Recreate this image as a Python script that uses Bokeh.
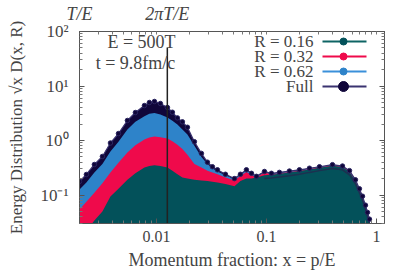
import math
from bokeh.plotting import figure
from bokeh.models import LogAxis, FixedTicker, Label
from bokeh.embed import file_html
from bokeh.resources import INLINE

# ---- data ----
T_OVER_E = 1.0 / 500.0
x = [0.0020, 0.00231, 0.00273, 0.00323, 0.00382, 0.00452, 0.00545, 0.00644,
     0.00778, 0.00863, 0.0096, 0.01087, 0.01259, 0.01397, 0.01552, 0.01723,
     0.01914, 0.02215, 0.02565, 0.02909, 0.03228, 0.03587, 0.04238, 0.05117,
     0.05803, 0.06577, 0.0731, 0.0811, 0.09594, 0.1110, 0.1312, 0.1618,
     0.1995, 0.2460, 0.3034, 0.3981, 0.4909, 0.5686, 0.6442, 0.7000,
     0.7464, 0.7943, 0.8283, 0.8637]
full = [0.177, 0.238, 0.363, 0.51, 0.9, 1.34, 2.33, 3.26,
        4.38, 4.98, 5.2, 4.77, 4.03, 3.3, 2.6, 2.2,
        1.75, 0.95, 0.58, 0.40, 0.33, 0.29, 0.24, 0.20,
        0.24, 0.29, 0.25, 0.22, 0.27, 0.25, 0.26, 0.275,
        0.29, 0.31, 0.33, 0.36, 0.34, 0.28, 0.19, 0.13,
        0.095, 0.065, 0.048, 0.036]
r062 = [0.126, 0.17, 0.26, 0.37, 0.63, 0.95, 1.6, 2.2,
        2.8, 3.1, 3.2, 3.0, 2.65, 2.3, 1.97, 1.6,
        1.29, 0.8, 0.5, 0.37, 0.31, 0.27, 0.23, 0.195,
        0.235, 0.285, 0.245, 0.215, 0.265, 0.245, 0.255, 0.27,
        0.285, 0.305, 0.325, 0.355, 0.335, 0.275, 0.185, 0.127,
        0.093, 0.064, 0.047, 0.035]
r032 = [0.054, 0.075, 0.11, 0.165, 0.26, 0.39, 0.6, 0.82,
        1.04, 1.13, 1.18, 1.15, 1.09, 0.97, 0.84, 0.7,
        0.55, 0.37, 0.32, 0.28, 0.26, 0.24, 0.21, 0.185,
        0.225, 0.265, 0.235, 0.21, 0.26, 0.24, 0.25, 0.265,
        0.28, 0.3, 0.32, 0.35, 0.33, 0.27, 0.18, 0.125,
        0.091, 0.063, 0.046, 0.034]
r016 = [0.018, 0.022, 0.034, 0.05, 0.094, 0.13, 0.19, 0.25,
        0.32, 0.34, 0.35, 0.34, 0.32, 0.28, 0.24, 0.21,
        0.2, 0.19, 0.185, 0.18, 0.175, 0.17, 0.16, 0.145,
        0.18, 0.2, 0.2, 0.21, 0.23, 0.235, 0.245, 0.26,
        0.275, 0.295, 0.315, 0.345, 0.325, 0.265, 0.18, 0.122,
        0.09, 0.062, 0.045, 0.033]
# inner dark edge of R=0.16 at large x
x_edge = [0.09594, 0.1110, 0.1312, 0.1618, 0.1995, 0.2460, 0.3034, 0.3981,
          0.4909, 0.5686, 0.6442, 0.7000, 0.7464, 0.7943, 0.8283, 0.8637]
r016_edge = [0.2, 0.205, 0.215, 0.225, 0.24, 0.26, 0.28, 0.305,
             0.29, 0.235, 0.16, 0.11, 0.08, 0.055, 0.04, 0.03]
labels = ["R = 0.16", "R = 0.32", "R = 0.62", "Full"]
y_ticks = [0.1, 1, 10, 100]
y_tick_labels = ["10\u207b\u00b9", "10\u2070", "10\u00b9", "10\u00b2"]
x_ticks = [0.01, 0.1, 1]
x_tick_labels = ["0.01", "0.1", "1"]

# ---- styling ----
NAVY = "#10063a"
NAVY_LINE = "#3a3370"
BLUE = "#2e83c9"
BLUE_LINE = "#3a90da"
RED = "#ef0a4b"
TEAL = "#03515a"
TEAL_LINE = "#0e6464"
SERIF = "Liberation Serif"
GREY = "#444444"

XR = (0.002, 1.183)
YR = (0.0300, 100.0)
FW, FH = 305, 192

p = figure(x_axis_type="log", y_axis_type="log",
           x_range=XR, y_range=YR, output_backend="svg", toolbar_location=None,
           frame_width=FW, frame_height=FH,
           min_border_left=79, min_border_right=22, min_border_top=30,
           min_border_bottom=50, x_axis_label="Momentum fraction: x = p/E",
           y_axis_label="Energy Distribution \u221ax D(x, R)")
p.grid.visible = False
p.outline_line_color = "#555555"
p.background_fill_color = "white"
p.border_fill_color = "white"

for ax in (p.xaxis[0], p.yaxis[0]):
    ax.axis_line_color = "#555555"
    ax.major_tick_in = 5
    ax.major_tick_out = 0
    ax.minor_tick_in = 3
    ax.minor_tick_out = 0
    ax.major_tick_line_color = "#555555"
    ax.minor_tick_line_color = "#777777"
    ax.major_label_text_font = SERIF
    ax.major_label_text_color = GREY
    ax.axis_label_text_font = SERIF
    ax.axis_label_text_font_style = "normal"
    ax.axis_label_text_color = GREY

minor_x = [m * 10 ** e for e in (-3, -2, -1) for m in range(2, 10)]
minor_y = [m * 10 ** e for e in (-2, -1, 0, 1) for m in range(2, 10)]
p.xaxis[0].ticker = FixedTicker(ticks=x_ticks, minor_ticks=minor_x)
p.xaxis[0].major_label_overrides = dict(zip(x_ticks, x_tick_labels))
p.xaxis[0].major_label_text_font_size = "16px"
p.xaxis[0].axis_label_text_font_size = "18px"
p.xaxis[0].major_label_standoff = 7
p.xaxis[0].axis_label_standoff = 5
p.yaxis[0].ticker = FixedTicker(ticks=y_ticks, minor_ticks=minor_y)
p.yaxis[0].major_label_overrides = dict(zip(y_ticks, y_tick_labels))
p.yaxis[0].major_label_text_font_size = "17px"
p.yaxis[0].axis_label_text_font_size = "17px"
p.yaxis[0].major_label_standoff = 11
p.yaxis[0].axis_label_standoff = 11

# right axis: ticks only
rax = LogAxis(ticker=FixedTicker(ticks=y_ticks, minor_ticks=minor_y),
              major_label_text_alpha=0.0, major_label_text_font_size="8px",
              major_tick_in=5, major_tick_out=0, minor_tick_in=3, minor_tick_out=0,
              axis_line_color="#555555", major_tick_line_color="#555555",
              minor_tick_line_color="#777777", major_label_standoff=0)
p.add_layout(rax, "right")

# top axis: T/E and 2piT/E labels
tick_top = [T_OVER_E, 2 * math.pi * T_OVER_E]
tax = LogAxis(ticker=FixedTicker(ticks=tick_top, minor_ticks=minor_x + [0.01, 0.1, 1.0]),
              major_label_overrides={tick_top[0]: "T/E", tick_top[1]: "2\u03c0T/E"},
              major_tick_in=0, major_tick_out=0, minor_tick_in=3, minor_tick_out=0,
              axis_line_color="#555555", minor_tick_line_color="#777777",
              major_label_text_font=SERIF, major_label_text_font_size="18px",
              major_label_text_font_style="italic", major_label_text_color=GREY,
              major_label_standoff=8)
p.add_layout(tax, "above")

floor = [1e-3] * len(x)
p.varea(x=x, y1=floor, y2=full, fill_color=NAVY)
p.varea(x=x, y1=floor, y2=r062, fill_color=BLUE)
p.varea(x=x, y1=floor, y2=r032, fill_color=RED)
p.varea(x=x, y1=floor, y2=r016, fill_color=TEAL)
p.line(x=x_edge, y=r016_edge, line_color="#1d3050", line_width=1.5)
p.line(x=x, y=full, line_color=NAVY_LINE, line_width=1.2)
p.scatter(x=x, y=full, size=4.5, fill_color=NAVY, line_color="#2a2560", line_width=1)

lx0, lx1 = math.log10(XR[0]), math.log10(XR[1])
ly0, ly1 = math.log10(YR[0]), math.log10(YR[1])


def fx(px):
    return 10 ** (lx0 + px / FW * (lx1 - lx0))


def fy(py_from_top):
    return 10 ** (ly1 - py_from_top / FH * (ly1 - ly0))


# vertical marker at 2*pi*T/E
p.segment(x0=[tick_top[1]], x1=[tick_top[1]], y0=[YR[0]], y1=[fy(16)],
          line_color="#222222", line_width=1.5)

# annotation text
for txt, cx, yy in (("E = 500T", 62, 10), ("t = 9.8fm/c", 56, 31)):
    p.add_layout(Label(x=fx(cx), y=fy(yy), text=txt,
                       text_align="center", text_baseline="middle",
                       text_font=SERIF, text_font_size="18px", text_color=GREY))

# custom legend (text left, glyph right)
leg_fill = [TEAL, RED, BLUE, NAVY]
leg_line = [TEAL_LINE, RED, BLUE_LINE, NAVY_LINE]
leg_size = [7, 7, 7, 10]
for i, lab in enumerate(labels):
    row = 10 + 15 * i
    yv = fy(row)
    p.line(x=[fx(243), fx(287)], y=[yv, yv], line_color=leg_line[i], line_width=2)
    p.scatter(x=[fx(264)], y=[yv], size=leg_size[i], fill_color=leg_fill[i],
              line_color=leg_fill[i])
    p.add_layout(Label(x=fx(234), y=yv, text=lab,
                       text_align="right", text_baseline="middle",
                       text_font=SERIF, text_font_size="17px", text_color=GREY))

open("out.html", "w").write(file_html(p, INLINE))
